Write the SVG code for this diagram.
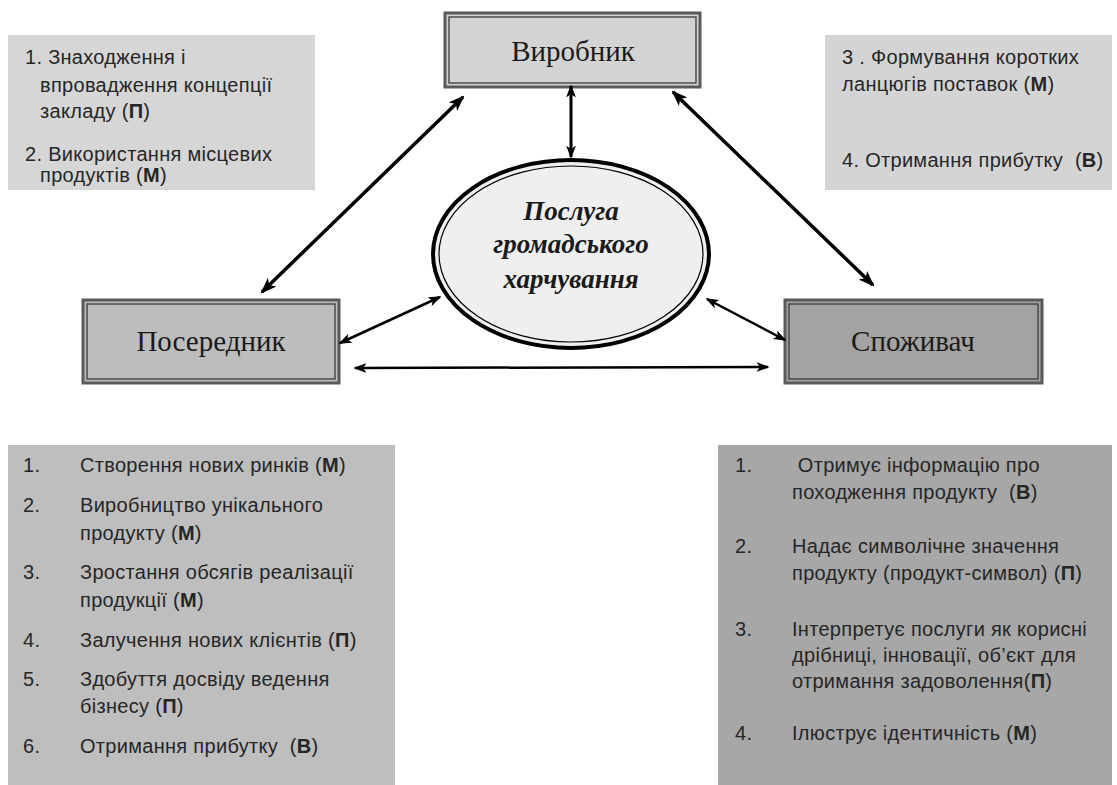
<svg xmlns="http://www.w3.org/2000/svg" width="1117" height="785" viewBox="0 0 1117 785">
<defs>
<style>
.sans{font-family:"Liberation Sans",Arial,sans-serif;font-size:20px;letter-spacing:0.3px;fill:#262626;white-space:pre}
.b{font-weight:bold}
.ser{font-family:"Liberation Serif","Times New Roman",serif;font-size:29px;fill:#1a1a1a}
.ell{font-family:"Liberation Serif","Times New Roman",serif;font-size:27px;font-weight:bold;font-style:italic;fill:#1a1a1a}
.outer{stroke:#5a5a5a;stroke-width:3}
.inner{fill:none;stroke:#3a3a3a;stroke-width:1.3}
.conn{stroke:#000;fill:none}
</style>
<marker id="ah" viewBox="0 0 16 12" refX="14" refY="6" markerWidth="16" markerHeight="12" markerUnits="userSpaceOnUse" orient="auto-start-reverse">
<path d="M0,0 L16,6 L0,12 L4,6 z" fill="#000"/>
</marker>
<marker id="as" viewBox="0 0 16 12" refX="14" refY="6" markerWidth="13" markerHeight="10" markerUnits="userSpaceOnUse" orient="auto-start-reverse">
<path d="M0,0 L16,6 L0,12 L4,6 z" fill="#000"/>
</marker>
</defs>
<rect width="1117" height="785" fill="#fff"/>

<g id="note-top-left">
<rect x="8" y="35" width="307" height="155" fill="#d6d6d6"/>
<text class="sans" x="25" y="64">1. Знаходження і</text>
<text class="sans" x="40" y="92">впровадження концепції</text>
<text class="sans" x="40" y="118">закладу (<tspan class="b">П</tspan>)</text>
<text class="sans" x="25" y="161">2. Використання місцевих</text>
<text class="sans" x="40" y="182">продуктів (<tspan class="b">М</tspan>)</text>
</g>

<g id="note-top-right">
<rect x="825" y="35" width="287" height="155" fill="#d4d4d4"/>
<text class="sans" x="842" y="64">3 . Формування коротких</text>
<text class="sans" x="842" y="91">ланцюгів поставок (<tspan class="b">М</tspan>)</text>
<text class="sans" x="842" y="167">4. Отримання прибутку  (<tspan class="b">В</tspan>)</text>
</g>

<g id="node-vyrobnyk">
<rect class="outer" x="445" y="13" width="255" height="74" fill="#d3d3d3"/>
<rect class="inner" x="449" y="17" width="247" height="66"/>
<text class="ser" x="573" y="61" text-anchor="middle">Виробник</text>
</g>

<g id="node-poserednyk">
<rect class="outer" x="83" y="300" width="256" height="83" fill="#bdbdbd"/>
<rect class="inner" x="87" y="304" width="248" height="75"/>
<text class="ser" x="211" y="351" text-anchor="middle">Посередник</text>
</g>

<g id="node-spozhyvach">
<rect class="outer" x="785" y="300" width="257" height="83" fill="#a3a3a3"/>
<rect class="inner" x="789" y="304" width="249" height="75"/>
<text class="ser" x="913" y="351" text-anchor="middle">Споживач</text>
</g>

<g id="node-posluga">
<ellipse cx="571" cy="254" rx="138" ry="94" fill="#efefef" stroke="#000" stroke-width="4"/>
<ellipse cx="571" cy="254" rx="132" ry="88" fill="none" stroke="#000" stroke-width="1.2"/>
<text class="ell" x="571" y="220" text-anchor="middle">Послуга</text>
<text class="ell" x="571" y="253" text-anchor="middle">громадського</text>
<text class="ell" x="571" y="288" text-anchor="middle">харчування</text>
</g>

<g id="note-bottom-left">
<rect x="8" y="445" width="387" height="340" fill="#bebebe"/>
<text class="sans" x="23" y="472">1.</text>
<text class="sans" x="80" y="472">Створення нових ринків (<tspan class="b">М</tspan>)</text>
<text class="sans" x="23" y="512">2.</text>
<text class="sans" x="80" y="512">Виробництво унікального</text>
<text class="sans" x="80" y="540">продукту (<tspan class="b">М</tspan>)</text>
<text class="sans" x="23" y="579">3.</text>
<text class="sans" x="80" y="579">Зростання обсягів реалізації</text>
<text class="sans" x="80" y="607">продукції (<tspan class="b">М</tspan>)</text>
<text class="sans" x="23" y="647">4.</text>
<text class="sans" x="80" y="647">Залучення нових клієнтів (<tspan class="b">П</tspan>)</text>
<text class="sans" x="23" y="686">5.</text>
<text class="sans" x="80" y="686">Здобуття досвіду ведення</text>
<text class="sans" x="80" y="713">бізнесу (<tspan class="b">П</tspan>)</text>
<text class="sans" x="23" y="753">6.</text>
<text class="sans" x="80" y="753">Отримання прибутку  (<tspan class="b">В</tspan>)</text>
</g>

<g id="note-bottom-right">
<rect x="718" y="445" width="394" height="340" fill="#a7a7a7"/>
<text class="sans" x="735" y="472">1.</text>
<text class="sans" x="792" y="472"> Отримує інформацію про</text>
<text class="sans" x="792" y="499">походження продукту  (<tspan class="b">В</tspan>)</text>
<text class="sans" x="735" y="553">2.</text>
<text class="sans" x="792" y="553">Надає символічне значення</text>
<text class="sans" x="792" y="580">продукту (продукт-символ) (<tspan class="b">П</tspan>)</text>
<text class="sans" x="735" y="636">3.</text>
<text class="sans" x="792" y="636">Інтерпретує послуги як корисні</text>
<text class="sans" x="792" y="662">дрібниці, інновації, об’єкт для</text>
<text class="sans" x="792" y="688">отримання задоволення(<tspan class="b">П</tspan>)</text>
<text class="sans" x="735" y="740">4.</text>
<text class="sans" x="792" y="740">Ілюструє ідентичність (<tspan class="b">М</tspan>)</text>
</g>

<g id="connectors">
<line class="conn" x1="262" y1="292" x2="463" y2="97" stroke-width="3.5" marker-start="url(#ah)" marker-end="url(#ah)"/>
<line class="conn" x1="673" y1="92" x2="873" y2="285" stroke-width="3.5" marker-start="url(#ah)" marker-end="url(#ah)"/>
<line class="conn" x1="571" y1="86" x2="571" y2="157" stroke-width="3" marker-start="url(#as)" marker-end="url(#as)"/>
<line class="conn" x1="340" y1="343" x2="440" y2="297" stroke-width="2.5" marker-start="url(#as)" marker-end="url(#as)"/>
<line class="conn" x1="707" y1="299" x2="785" y2="340" stroke-width="2.5" marker-start="url(#as)" marker-end="url(#as)"/>
<line class="conn" x1="355" y1="368" x2="768" y2="367" stroke-width="2.5" marker-start="url(#as)" marker-end="url(#as)"/>
</g>
</svg>
